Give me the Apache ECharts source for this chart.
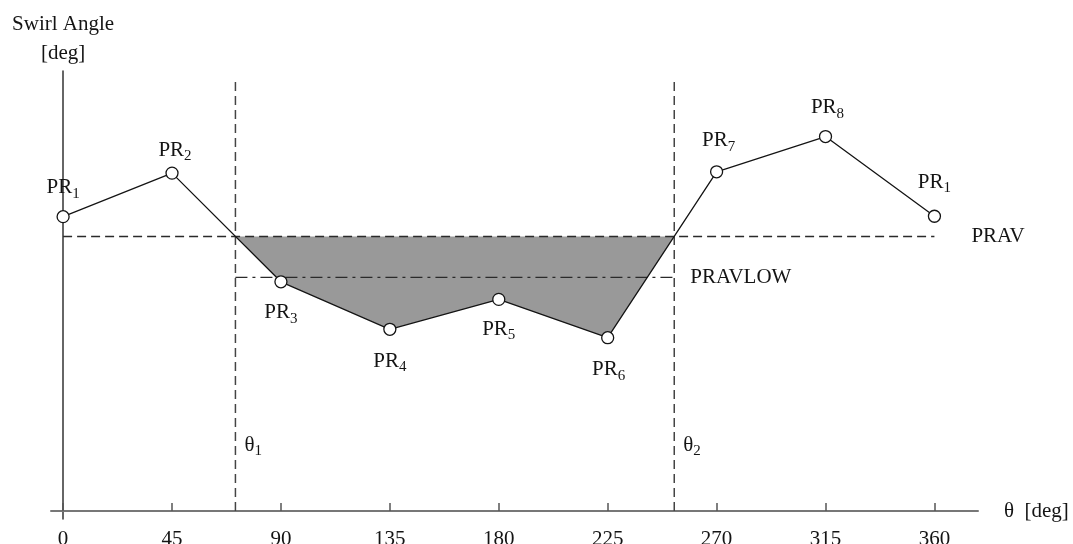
<!DOCTYPE html>
<html>
<head>
<meta charset="utf-8">
<script src="https://cdn.jsdelivr.net/npm/echarts@6/dist/echarts.min.js"></script>
<style>
  html, body { margin: 0; padding: 0; background: #fff; }
  #swirl { width: 1073px; height: 544px; }
</style>
</head>
<body>
<div id="swirl"></div>
<script>
// 测点角度与旋流角（纵轴无刻度，取相对单位）
const angles = [0, 45, 90, 135, 180, 225, 270, 315, 360];
const swirl = [66.9, 76.8, 52.1, 41.3, 48.1, 39.4, 77.1, 85.1, 67.0];
const pointSubs = ['1', '2', '3', '4', '5', '6', '7', '8', '1'];
const xTicks = [0, 45, 90, 135, 180, 225, 270, 315, 360];
const prav = 62.4;       // PRAV
const pravLow = 53.1;    // PRAVLOW
const theta1 = 71.2;
const theta2 = 252.5;
const thetaTop = 98.4;
const thetaLabelY = 15;

const serif = "'Liberation Serif', 'Times New Roman', serif";
const ink = '#141414';

// 标签偏移（样式）
const labelOffsets = [[0, -29], [3, -23], [0, 31], [0, 32], [0, 30], [1, 32], [2, -31], [2, -29], [0, -34]];

const richText = {
  m: { fontSize: 21, lineHeight: 22, fontFamily: serif, color: ink },
  s: { fontSize: 15, lineHeight: 14, padding: [12, 0, 0, 0], fontFamily: serif, color: ink }
};

// 阴影区：PRAV 线以下、θ1~θ2 之间
const shadePts = [[theta1, prav]];
angles.forEach((a, i) => { if (a > theta1 && a < theta2) shadePts.push([a, swirl[i]]); });
shadePts.push([theta2, prav]);

const swirlOption = {
  animation: false,
  grid: { left: 51, right: 95, top: 71, bottom: 25, containLabel: false, outerBoundsMode: 'none' },
  xAxis: {
    type: 'value',
    min: -5,
    max: 378,
    name: 'θ  [deg]',
    nameLocation: 'end',
    nameGap: 26,
    nameTextStyle: { fontSize: 21, fontFamily: serif, color: ink },
    axisLine: { show: true, onZero: true, lineStyle: { color: '#777', width: 2 } },
    axisTick: { show: true, inside: true, length: 8, customValues: xTicks, lineStyle: { color: '#555', width: 1.5 } },
    axisLabel: { show: true, customValues: xTicks, margin: 10, fontSize: 21, fontFamily: serif, color: ink },
    splitLine: { show: false }
  },
  yAxis: {
    type: 'value',
    min: -1.8,
    max: 100,
    name: 'Swirl Angle\n[deg]',
    nameLocation: 'end',
    nameGap: 3,
    nameTextStyle: { fontSize: 21, lineHeight: 29, fontFamily: serif, color: ink, align: 'center' },
    axisLine: { show: true, onZero: true, lineStyle: { color: '#333', width: 1.5 } },
    axisTick: { show: false },
    axisLabel: { show: false },
    splitLine: { show: false }
  },
  series: [
    {
      // 阴影面积
      type: 'custom',
      z: 1,
      silent: true,
      data: shadePts,
      renderItem: function (params, api) {
        if (params.dataIndex !== 0) return null;
        const pts = shadePts.map(p => api.coord(p));
        return { type: 'polygon', shape: { points: pts }, style: { fill: '#999999' } };
      }
    },
    {
      name: 'PRAV',
      type: 'line',
      z: 2,
      silent: true,
      showSymbol: false,
      symbol: 'none',
      data: [[0, prav], [360, prav]],
      lineStyle: { color: '#2a2a2a', width: 1.4, type: [9, 5] },
      endLabel: { show: true, formatter: 'PRAV', distance: 37, fontSize: 21, fontFamily: serif, color: ink }
    },
    {
      name: 'PRAVLOW',
      type: 'line',
      z: 2,
      silent: true,
      showSymbol: false,
      symbol: 'none',
      data: [[theta1, pravLow], [theta2, pravLow]],
      lineStyle: { color: '#2a2a2a', width: 1.4, type: [12, 5, 3, 5] },
      endLabel: { show: true, formatter: 'PRAVLOW', distance: 16, fontSize: 21, fontFamily: serif, color: ink }
    },
    {
      name: 'theta1',
      type: 'line',
      z: 2,
      silent: true,
      showSymbol: false,
      symbol: 'none',
      data: [[theta1, 0], [theta1, thetaTop]],
      lineStyle: { color: '#444', width: 1.5, type: [9, 5] }
    },
    {
      name: 'theta2',
      type: 'line',
      z: 2,
      silent: true,
      showSymbol: false,
      symbol: 'none',
      data: [[theta2, 0], [theta2, thetaTop]],
      lineStyle: { color: '#444', width: 1.5, type: [9, 5] }
    },
    {
      // θ1 / θ2 标注
      type: 'scatter',
      z: 3,
      silent: true,
      symbolSize: 0.01,
      itemStyle: { color: '#fff', opacity: 1 },
      data: [[theta1, thetaLabelY], [theta2, thetaLabelY]],
      label: {
        show: true,
        position: 'right',
        distance: 9,
        color: ink,
        opacity: 1,
        formatter: p => '{m|θ}{s|' + (p.dataIndex + 1) + '}',
        rich: richText
      }
    },
    {
      name: 'swirl',
      type: 'line',
      z: 5,
      symbol: 'circle',
      symbolSize: 12,
      showAllSymbol: true,
      data: angles.map((a, i) => ({ value: [a, swirl[i]], label: { offset: labelOffsets[i] } })),
      lineStyle: { color: ink, width: 1.3 },
      itemStyle: { color: '#fff', borderColor: ink, borderWidth: 1.3 },
      label: {
        show: true,
        position: 'inside',
        formatter: p => '{m|PR}{s|' + pointSubs[p.dataIndex] + '}',
        rich: richText
      },
      emphasis: { disabled: true }
    }
  ]
};

const swirlChart = echarts.init(document.getElementById('swirl'));
swirlChart.setOption(swirlOption, true);
</script>
</body>
</html>
